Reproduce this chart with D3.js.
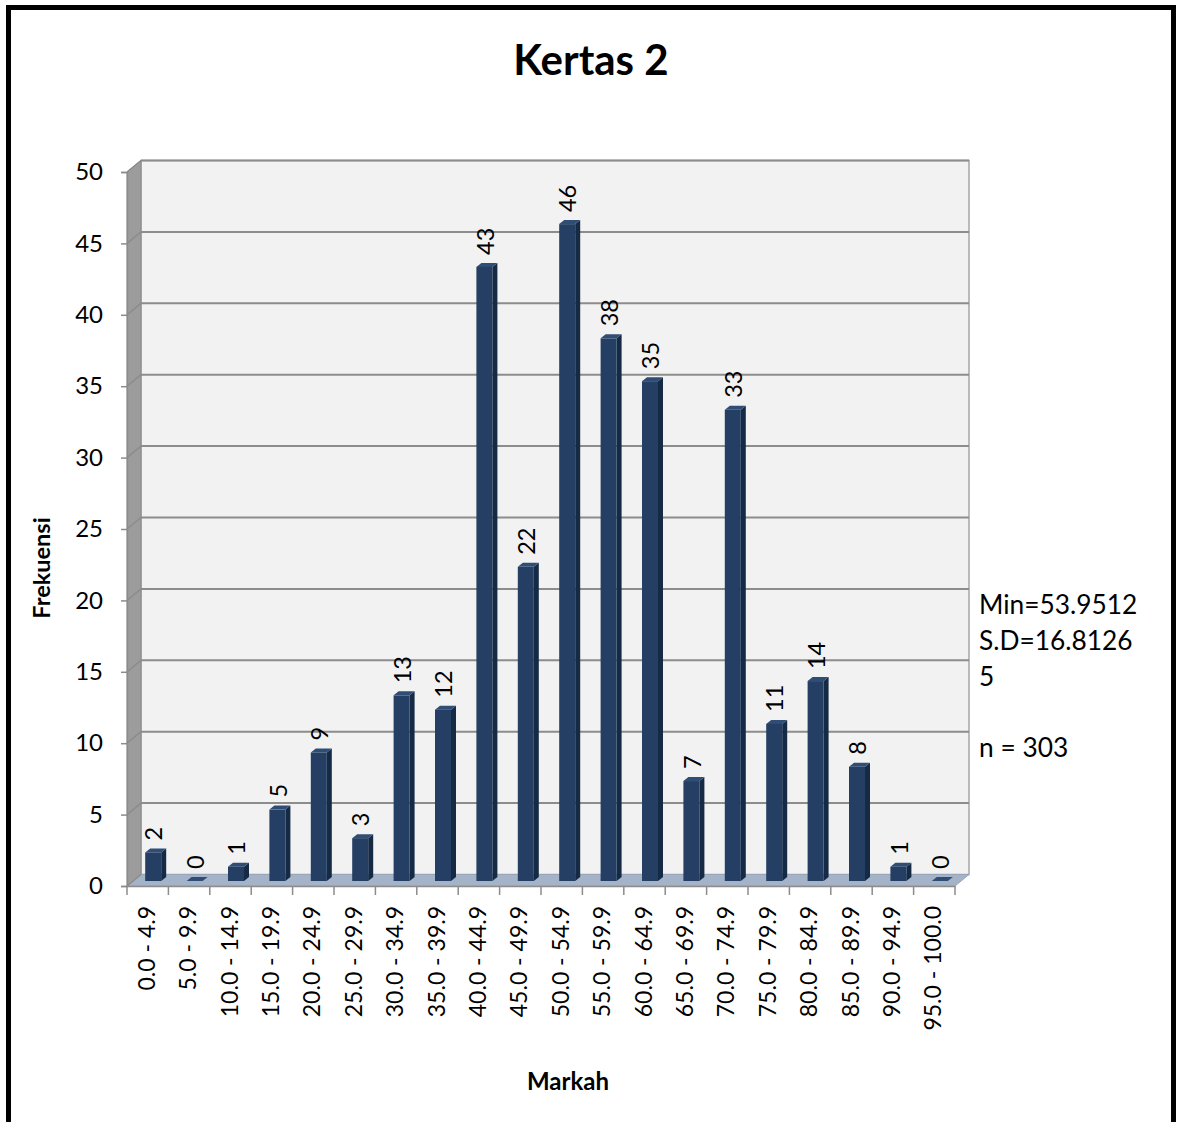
<!DOCTYPE html>
<html><head><meta charset="utf-8">
<script src="https://cdn.jsdelivr.net/npm/d3@7"></script>
<style>body{margin:0;background:#fff}svg{display:block}text{font-family:Lato,"Open Sans",sans-serif}</style>
</head><body>
<script>
const categories = ["0.0 - 4.9","5.0 - 9.9","10.0 - 14.9","15.0 - 19.9","20.0 - 24.9","25.0 - 29.9","30.0 - 34.9","35.0 - 39.9","40.0 - 44.9","45.0 - 49.9","50.0 - 54.9","55.0 - 59.9","60.0 - 64.9","65.0 - 69.9","70.0 - 74.9","75.0 - 79.9","80.0 - 84.9","85.0 - 89.9","90.0 - 94.9","95.0 - 100.0"];
const frequencies = [2,0,1,5,9,3,13,12,43,22,46,38,35,7,33,11,14,8,1,0];
const yTicks = [0,5,10,15,20,25,30,35,40,45,50];
const statLines = ["Min=53.9512","S.D=16.8126","5","","n = 303"];
const title = "Kertas 2", xTitle = "Markah", yTitle = "Frekuensi";

const W = 1180, H = 1122;
const svg = d3.select("body").append("svg").attr("width", W).attr("height", H);

// frame
svg.append("rect").attr("x", 8.5).attr("y", 7.5).attr("width", 1165).attr("height", 1140)
  .attr("fill", "#fff").attr("stroke", "#000").attr("stroke-width", 5);

const x0 = 127, x1 = 955;
const dX = 14, dY = -11.5; // depth of wall
const x = d3.scaleBand().domain(categories).range([x0, x1]).padding(0);
const y = d3.scaleLinear().domain([0, 50]).range([886, 172]);

const g = svg.append("g");
// back wall
g.append("rect").attr("x", x0 + dX).attr("y", y(50) + dY).attr("width", x1 - x0).attr("height", y(0) - y(50))
  .attr("fill", "#f2f2f2").attr("stroke", "#a6a6a6").attr("stroke-width", 1.5);
// side wall
g.append("polygon").attr("points", [[x0, y(50)], [x0 + dX, y(50) + dY], [x0 + dX, y(0) + dY], [x0, y(0)]].join(" "))
  .attr("fill", "#9c9c9c").attr("stroke", "#8a8a8a").attr("stroke-width", 1);
// floor
g.append("polygon").attr("points", [[x0, y(0)], [x1, y(0)], [x1 + dX, y(0) + dY], [x0 + dX, y(0) + dY]].join(" "))
  .attr("fill", "#a4b3c8").attr("stroke", "#97a6bb").attr("stroke-width", 1);

// gridlines
yTicks.forEach(t => {
  if (t > 0) g.append("line").attr("x1", x0 + dX).attr("x2", x1 + dX).attr("y1", y(t) + dY).attr("y2", y(t) + dY)
    .attr("stroke", "#8c8c8c").attr("stroke-width", 2);
  g.append("line").attr("x1", x0).attr("x2", x0 + dX).attr("y1", y(t)).attr("y2", y(t) + dY)
    .attr("stroke", "#8c8c8c").attr("stroke-width", 1.5);
});

// y axis
const yAxis = d3.axisLeft(y).tickValues(yTicks).tickSize(6).tickPadding(18);
const ya = svg.append("g").attr("transform", `translate(${x0},0)`).call(yAxis);
ya.select(".domain").attr("stroke", "#8c8c8c").attr("stroke-width", 1.5);
ya.selectAll(".tick line").attr("stroke", "#8c8c8c").attr("stroke-width", 1.5);
ya.selectAll(".tick text").attr("font-size", 24).attr("fill", "#000").style("font-family", "Lato");

// x axis
const xAxis = d3.axisBottom(x).tickSize(0).tickFormat(d => d);
const xa = svg.append("g").attr("transform", `translate(0,${y(0)})`).call(xAxis);
xa.select(".domain").attr("stroke", "#8c8c8c").attr("stroke-width", 1.5);
xa.selectAll(".tick text").attr("font-size", 23).attr("fill", "#000").style("font-family", "Lato")
  .attr("transform", "rotate(-90)").attr("text-anchor", "end").attr("x", -20).attr("y", -1).attr("dy", "0.35em");
// boundary ticks
const bounds = categories.map(c => x(c)).concat([x1]);
xa.selectAll(".bt").data(bounds).enter().append("line").attr("class", "bt")
  .attr("x1", d => d).attr("x2", d => d).attr("y1", 0).attr("y2", 9)
  .attr("stroke", "#8c8c8c").attr("stroke-width", 1.5);

// bars
const bw = 16, bdx = 5, bdy = -4, offX = 5.5, offY = -5;
const bars = svg.append("g");
categories.forEach((c, i) => {
  const v = frequencies[i];
  const cx = x(c) + x.bandwidth() / 2 + offX;
  const left = cx - bw / 2, right = cx + bw / 2;
  const top = y(v) + offY, bot = y(0) + offY;
  // side
  bars.append("polygon").attr("points", [[right, top], [right + bdx, top + bdy], [right + bdx, bot + bdy], [right, bot]].join(" "))
    .attr("fill", "#142a45");
  // top
  bars.append("polygon").attr("points", [[left, top], [left + bdx, top + bdy], [right + bdx, top + bdy], [right, top]].join(" "))
    .attr("fill", "#2f4d75");
  // front
  bars.append("rect").attr("x", left).attr("y", top).attr("width", bw).attr("height", Math.max(0, bot - top))
    .attr("fill", "#243f63");
  // label
  const lx = cx + 1, ly = top + bdy - 8;
  bars.append("text").attr("transform", `translate(${lx},${ly}) rotate(-90)`)
    .attr("text-anchor", "start").attr("dy", "0.35em").attr("font-size", 23.5).attr("fill", "#000").text(v);
});

// titles
svg.append("text").attr("x", 591).attr("y", 75).attr("text-anchor", "middle")
  .attr("font-size", 42).attr("font-weight", "bold").text(title);
svg.append("text").attr("x", 568).attr("y", 1090).attr("text-anchor", "middle")
  .attr("font-size", 24).attr("font-weight", "bold").text(xTitle);
svg.append("text").attr("transform", "translate(50,568) rotate(-90)").attr("text-anchor", "middle")
  .attr("font-size", 23.5).attr("font-weight", "bold").text(yTitle);

// stats
statLines.forEach((s, i) => {
  svg.append("text").attr("x", 979).attr("y", 614 + i * 35.8).attr("font-size", 26.3).attr("fill", "#000").text(s);
});
</script>
</body></html>
